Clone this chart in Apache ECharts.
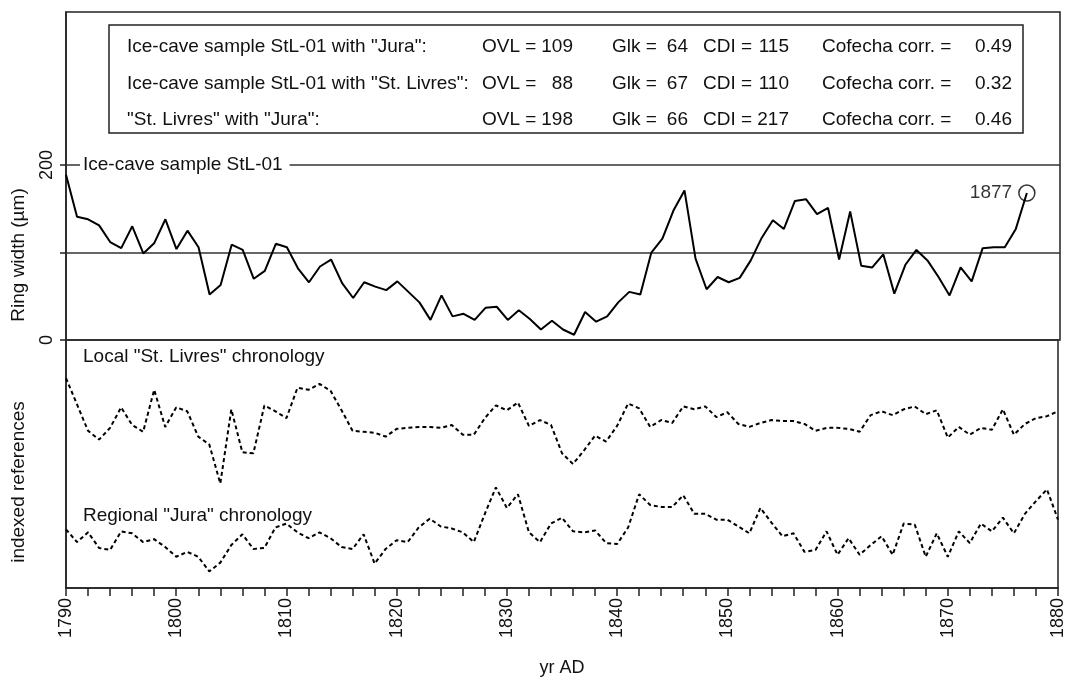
<!DOCTYPE html>
<html>
<head>
<meta charset="utf-8">
<script src="https://cdn.jsdelivr.net/npm/echarts@6/dist/echarts.min.js"></script>
<style>
html, body { margin: 0; padding: 0; background: #fff; }
#chart { width: 1067px; height: 678px; }
</style>
</head>
<body>
<div id="chart"></div>
<script>
// 数据
var firstYear = 1790;
var lastYear = 1880;

// ring width of ice-cave sample StL-01, µm, 1790..1877
var ringWidth = [
  189, 141, 138, 131, 112, 105, 130, 99, 111, 138,
  104, 125, 106, 52, 63, 109, 103, 70, 79, 110,
  106, 82, 66, 84, 92, 65, 48, 66, 61, 57,
  67, 55, 43, 23, 51, 27, 30, 23, 37, 38,
  23, 34, 24, 12, 22, 12, 6, 32, 21, 27,
  43, 55, 52, 100, 116, 148, 171, 93, 58, 72,
  66, 71, 91, 117, 137, 127, 159, 161, 144, 151,
  92, 147, 85, 83, 98, 53, 86, 103, 91, 72,
  51, 83, 67, 105, 106, 106, 127, 168
];

// indexed references (arbitrary index units, stacked), 1790..1880
var stLivres = [
  215, 188, 161, 152, 164, 185, 167, 160, 203, 165,
  185, 181, 155, 147, 107, 183, 139, 138, 187, 181,
  174, 205, 203, 209, 202, 182, 161, 160, 159, 155,
  163, 164, 165, 165, 164, 167, 157, 157, 174, 187,
  182, 190, 166, 172, 167, 138, 127, 141, 156, 150,
  166, 189, 184, 165, 172, 169, 186, 183, 186, 175,
  180, 168, 165, 169, 172, 171, 171, 168, 161, 164,
  164, 163, 160, 177, 181, 177, 183, 186, 178, 182,
  154, 165, 157, 164, 162, 183, 157, 168, 174, 176, 181
];
var jura = [
  60, 47, 57, 41, 39, 58, 56, 47, 50, 42,
  32, 37, 32, 17, 26, 44, 55, 40, 41, 62,
  66, 57, 51, 57, 51, 42, 40, 55, 25, 40,
  49, 47, 62, 71, 63, 61, 57, 47, 76, 103,
  82, 96, 57, 47, 66, 72, 58, 57, 59, 46,
  45, 62, 96, 85, 83, 83, 95, 76, 76, 70,
  70, 63, 56, 82, 67, 53, 56, 37, 39, 58,
  34, 51, 34, 44, 53, 34, 66, 65, 32, 56,
  32, 58, 46, 66, 58, 72, 56, 76, 89, 101, 70
];

// statistics table
var pairNames = ['Ice-cave sample StL-01 with "Jura":', 'Ice-cave sample StL-01 with "St. Livres":', '"St. Livres" with "Jura":'];
var ovl = [109, 88, 198];
var glk = [64, 67, 66];
var cdi = [115, 110, 217];
var cofecha = ['0.49', '0.32', '0.46'];

var ringTicks = [0, 100, 200];
var ringTickLabels = [0, 200];

function toPairs(arr) {
  var out = [];
  for (var i = 0; i < arr.length; i++) out.push([firstYear + i, arr[i]]);
  return out;
}

var FONT = '"Liberation Sans", Arial, sans-serif';
var INK = '#111';

// 表格
var graphics = [];
graphics.push({
  type: 'rect', z: 50,
  shape: { x: 109, y: 25, width: 914, height: 108 },
  style: { fill: '#fff', stroke: '#222', lineWidth: 1.5 }
});
var rowY = [47, 84, 120];
function tableText(x, y, text, align) {
  graphics.push({
    type: 'text', z: 51, x: x, y: y,
    style: { text: text, fill: INK, font: '19px ' + FONT, textAlign: align || 'left', textVerticalAlign: 'middle' }
  });
}
for (var r = 0; r < pairNames.length; r++) {
  tableText(127, rowY[r], pairNames[r]);
  tableText(482, rowY[r], 'OVL =');
  tableText(573, rowY[r], String(ovl[r]), 'right');
  tableText(612, rowY[r], 'Glk =');
  tableText(688, rowY[r], String(glk[r]), 'right');
  tableText(703, rowY[r], 'CDI =');
  tableText(789, rowY[r], String(cdi[r]), 'right');
  tableText(822, rowY[r], 'Cofecha corr. =');
  tableText(1012, rowY[r], cofecha[r], 'right');
}

// 曲线标注
function inlineLabel(x, y, text, bg) {
  graphics.push({
    type: 'text', z: 40, x: x, y: y,
    style: {
      text: text, fill: INK, font: '19px ' + FONT, textVerticalAlign: 'middle',
      backgroundColor: bg ? '#fff' : null, padding: bg ? [2, 7, 2, 3] : 0
    }
  });
}
inlineLabel(80, 165, 'Ice-cave sample StL-01', true);
inlineLabel(83, 357, 'Local "St. Livres" chronology', false);
inlineLabel(83, 516, 'Regional "Jura" chronology', false);

// 纵轴标题
function yName(x, y, text) {
  graphics.push({
    type: 'text', z: 40, x: x, y: y, rotation: Math.PI / 2,
    style: { text: text, fill: INK, font: '19px ' + FONT, textAlign: 'center', textVerticalAlign: 'middle' }
  });
}
yName(19, 255, 'Ring width (µm)');
yName(19, 482, 'indexed references');

var lastIdx = ringWidth.length - 1;

var option = {
  animation: false,
  textStyle: { fontFamily: FONT },
  grid: [
    { left: 66, right: 7, top: 12, height: 328, show: true, borderColor: '#222', borderWidth: 1.5 },
    { left: 66, right: 7, top: 340, height: 254, show: true, borderColor: '#222', borderWidth: 1.5 }
  ],
  xAxis: [
    { gridIndex: 0, type: 'value', min: firstYear, max: lastYear, show: false },
    {
      gridIndex: 1, type: 'value', min: firstYear, max: lastYear, interval: 2,
      axisLine: { lineStyle: { color: '#222', width: 1.5 } },
      axisTick: { length: 8, lineStyle: { color: '#222', width: 1.5 } },
      splitLine: { show: false },
      axisLabel: {
        rotate: 90, fontSize: 18, color: INK, margin: 10,
        formatter: function (v) { return v % 10 === 0 ? String(v) : ''; }
      },
      name: 'yr AD', nameLocation: 'middle', nameGap: 71,
      nameTextStyle: { fontSize: 18, color: INK }
    }
  ],
  yAxis: [
    {
      gridIndex: 0, type: 'value', min: 0, max: 375,
      axisLine: { show: true, lineStyle: { color: '#222', width: 1.5 } },
      axisTick: { show: true, length: 6, customValues: ringTicks, lineStyle: { color: '#222', width: 1.5 } },
      axisLabel: { rotate: 90, fontSize: 18, color: INK, margin: 10, customValues: ringTickLabels },
      splitLine: { show: false }
    },
    {
      gridIndex: 1, type: 'value', min: 0, max: 254,
      axisLine: { show: true, lineStyle: { color: '#222', width: 1.5 } },
      axisTick: { show: false }, axisLabel: { show: false }, splitLine: { show: false }
    }
  ],
  series: [
    {
      name: 'StL-01', type: 'line', xAxisIndex: 0, yAxisIndex: 0,
      data: toPairs(ringWidth), symbol: 'none',
      lineStyle: { color: '#000', width: 2 },
      markLine: {
        silent: true, symbol: ['none', 'none'], label: { show: false },
        lineStyle: { color: '#333', type: 'solid', width: 1.5 },
        data: ringTicks.map(function (t) { return { yAxis: t }; })
      },
      z: 5
    },
    {
      name: 'last year', type: 'scatter', xAxisIndex: 0, yAxisIndex: 0,
      data: [[firstYear + lastIdx, ringWidth[lastIdx]]],
      symbol: 'circle', symbolSize: 16,
      itemStyle: { color: 'rgba(0,0,0,0)', borderColor: '#000', borderWidth: 1.5 },
      label: {
        show: true, position: 'left', distance: 6, fontSize: 19, color: '#000',
        textBorderWidth: 0,
        formatter: function (p) { return String(p.value[0]); }
      },
      z: 6
    },
    {
      name: 'St. Livres', type: 'line', xAxisIndex: 1, yAxisIndex: 1,
      data: toPairs(stLivres), symbol: 'none',
      lineStyle: { color: '#000', width: 2, type: [4, 3] }
    },
    {
      name: 'Jura', type: 'line', xAxisIndex: 1, yAxisIndex: 1,
      data: toPairs(jura), symbol: 'none',
      lineStyle: { color: '#000', width: 2, type: [4, 3] }
    }
  ],
  graphic: graphics
};

var chartDom = document.getElementById('chart');
if (null != chartDom && 'undefined' != typeof (chartDom)) {
  var chart = echarts.init(chartDom);
  chart.setOption(option);
}
</script>
</body>
</html>
